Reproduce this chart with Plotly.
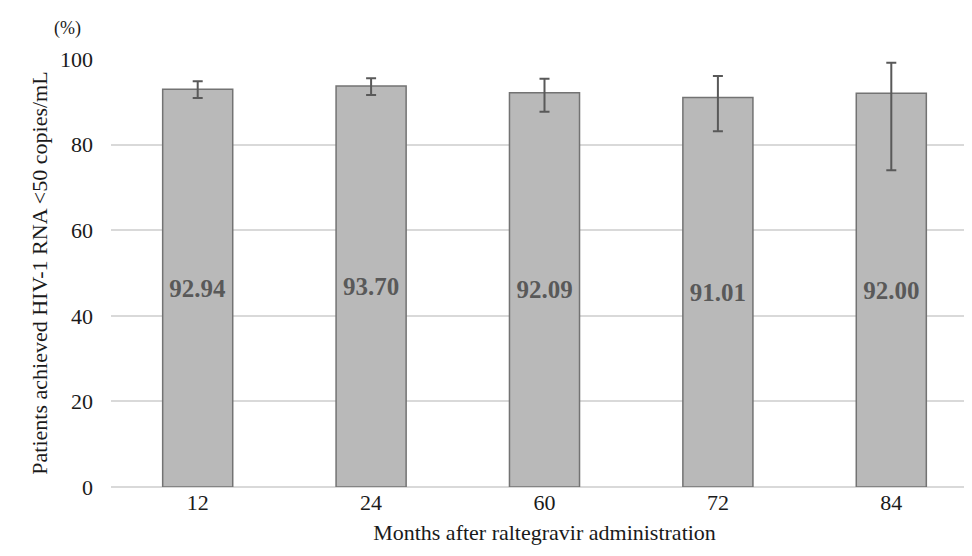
import plotly.graph_objects as go

months = ["12", "24", "60", "72", "84"]
pct = [92.94, 93.70, 92.09, 91.01, 92.00]
ci_upper = [94.8, 95.5, 95.4, 96.0, 99.1]
ci_lower = [90.9, 91.6, 87.7, 83.1, 74.0]
y_ticks = [0, 20, 40, 60, 80, 100]

plus = [u - v for u, v in zip(ci_upper, pct)]
minus = [v - l for v, l in zip(pct, ci_lower)]

FONT = "Liberation Serif, Times New Roman, serif"

fig = go.Figure()
fig.add_trace(go.Bar(
    x=months, y=pct,
    marker=dict(color="#b9b9b9", line=dict(color="#737373", width=1.5)),
    error_y=dict(type="data", array=plus, arrayminus=minus, symmetric=False,
                 color="#595959", thickness=2, width=5),
    text=[f"{v:.2f}" for v in pct],
    textposition="inside", insidetextanchor="middle", textangle=0,
    textfont=dict(family=FONT, size=25, color="#595959", weight="bold"),
    cliponaxis=False,
))

fig.update_layout(
    width=972, height=556,
    margin=dict(l=103, r=2, t=51, b=77),
    paper_bgcolor="white", plot_bgcolor="white",
    bargap=0.596,
    showlegend=False,
    font=dict(family=FONT, size=22, color="#1a1a1a"),
    xaxis=dict(type="category", title=dict(text="Months after raltegravir administration",
               font=dict(size=22), standoff=10),
               showgrid=False, showline=False, ticks="", tickfont=dict(size=22)),
    yaxis=dict(range=[0, 100], tickvals=y_ticks, showgrid=True, gridcolor="#d9d9d9",
               gridwidth=1.5, zeroline=True, zerolinecolor="#d9d9d9", zerolinewidth=2,
               showline=False, ticks="", tickfont=dict(size=22), ticklabelstandoff=17,
               title=dict(text="Patients achieved HIV-1 RNA <50 copies/mL",
                          font=dict(size=22), standoff=6)),
    annotations=[dict(text="(%)", xref="paper", yref="paper", x=-0.05, y=1.0,
                      xanchor="center", yanchor="bottom", yshift=18, showarrow=False,
                      font=dict(size=18, family=FONT, color="#1a1a1a"))],
)

fig.write_html("out.html")
